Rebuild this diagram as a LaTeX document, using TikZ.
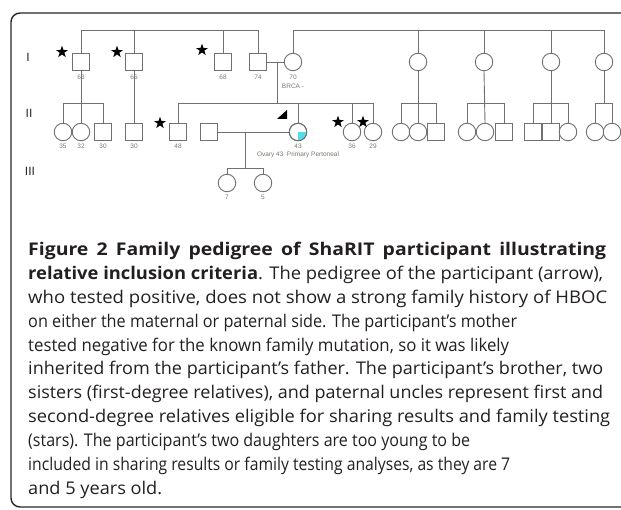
\documentclass[tikz,border=0pt]{standalone}
\usepackage{fontspec}
\usepackage{graphicx}
\setmainfont{Open Sans}
\newfontfamily\lblfont{Liberation Sans}
\usetikzlibrary{shapes.geometric}
\definecolor{lc}{RGB}{112,112,112}
\definecolor{agec}{RGB}{120,120,110}
\definecolor{cyanfill}{RGB}{80,222,235}
\definecolor{txt}{RGB}{35,31,32}
\newsavebox\capbox
\newlength\capinner
\newcommand\capline[4]{%
  \node[anchor=base west, inner sep=0, text=txt] (#1) at (28,#2) {%
    \sbox\capbox{\fontsize{17.5}{21}\selectfont #4}%
    \pgfmathsetmacro\capfac{#3/\wd\capbox}%
    \pgfmathsetmacro\gfac{min(\capfac,1.11)}%
    \pgfmathsetlength\capinner{#3/\gfac}%
    \scalebox{\gfac}[1]{\hbox to \capinner{\fontsize{17.5}{21}\selectfont #4}}};}
\tikzset{
  ln/.style={draw=lc, line width=0.9pt},
  male/.style={rectangle, draw=lc, fill=white, line width=0.9pt, minimum size=17pt, inner sep=0pt},
  female/.style={circle, draw=lc, fill=white, line width=0.9pt, minimum size=17.5pt, inner sep=0pt},
  age/.style={font=\lblfont\fontsize{6.5}{7}\selectfont, text=agec, inner sep=0pt},
  starmark/.style={star, star points=5, star point ratio=2.5, fill=black, draw=none, minimum size=12.5pt, inner sep=0pt},
  gen/.style={font=\lblfont\fontsize{12}{12}\selectfont, text=black!85, inner sep=0pt},
}
\begin{document}
\begin{tikzpicture}[x=1pt, y=-1pt]
\useasboundingbox (0,0) rectangle (621,510);
% frame
\begin{scope}
\clip (0,0) rectangle (621,510);
\draw[line width=1.4pt, black!85, rounded corners=9pt] (11,13) rectangle (660,507);
\end{scope}
% generation labels
\node[gen] (gI) at (28,57) {I};
\node[gen] (gII) at (29,113) {II};
\node[gen] (gIII) at (30,171) {III};
\coordinate (top) at (0,30);
\coordinate (sib) at (0,103);
% generation I
\node[male] (p63) at (81,62) {};
\node[male] (p66) at (134,62) {};
\node[male] (p68) at (223,62) {};
\node[male] (p74) at (258,62) {};
\node[female] (p70) at (293,62) {};
\node[female] (m1) at (418,62) {};
\node[female] (m2) at (484,62) {};
\node[female] (m3) at (551,62) {};
\node[female] (m4) at (604,62) {};
% top lines
\draw[ln] (p63.north) |- (p74.north |- top) -- (p74.north);
\draw[ln] (p66.north) -- (p66.north |- top);
\draw[ln] (p68.north) -- (p68.north |- top);
\draw[ln] (p70.north) |- (m4.north |- top) -- (m4.north);
\draw[ln] (m1.north) -- (m1.north |- top);
\draw[ln] (m2.north) -- (m2.north |- top);
\draw[ln] (m3.north) -- (m3.north |- top);
% marriage 74-70
\draw[ln] (p74.east) -- (p70.west);
\coordinate (mar1) at (277,62);
% generation II
\node[female] (c35) at (63,132) {};
\node[female] (c32) at (81,132) {};
\node[male] (c30a) at (103,132) {};
\node[male] (c30b) at (134,132) {};
\node[male] (b48) at (178,132) {};
\node[male] (hus) at (209,132) {};
\node[female] (part) at (298,132) {};
\node[female] (s36) at (352,132) {};
\node[female] (s29) at (373,132) {};
\node[female] (k1) at (401,132) {};
\node[female] (k2) at (418,132) {};
\node[male] (k3) at (436,132) {};
\node[female] (k4) at (467,132) {};
\node[female] (k5) at (485,132) {};
\node[male] (k6) at (504,132) {};
\node[male] (k7) at (533,132) {};
\node[male] (k8) at (551,132) {};
\node[female] (k9) at (568,132) {};
\node[female] (k10) at (595,132) {};
\node[female] (k11) at (612,132) {};
% participant affected quadrant
\begin{scope}
\clip (part.center) circle[radius=8.2pt];
\fill[cyanfill] (part.center) rectangle ++(9,9);
\end{scope}
\draw[ln] (part.center) circle[radius=8.75pt];
% sibships
\draw[ln] (p63.south) -- (c32.north);
\draw[ln] (c35.north) |- (c30a.north |- sib) -- (c30a.north);
\draw[ln] (p66.south) -- (c30b.north);
\draw[ln] (mar1) -- (mar1 |- sib);
\draw[ln] (b48.north) |- (s29.north |- sib) -- (s29.north);
\draw[ln] (part.north) -- (part.north |- sib);
\draw[ln] (s36.north) -- (s36.north |- sib);
\draw[ln] (m1.south) -- (k2.north);
\draw[ln] (k1.north) |- (k3.north |- sib) -- (k3.north);
\draw[ln] (m2.south) -- (k5.north);
\draw[ln] (k4.north) |- (k6.north |- sib) -- (k6.north);
\draw[ln] (m3.south) -- (k8.north);
\draw[ln] (k7.north) |- (k9.north |- sib) -- (k9.north);
\draw[ln] (m4.south) -- (m4.south |- sib);
\draw[ln] (k10.north) |- (k11.north |- sib) -- (k11.north);
% marriage participant
\draw[ln] (hus.east) -- (part.west);
\coordinate (mar2) at (245,132);
\coordinate (sib3) at (0,168);
% generation III
\node[female] (d7) at (227,183) {};
\node[female] (d5) at (263,183) {};
\draw[ln] (mar2) -- (mar2 |- sib3);
\draw[ln] (d7.north) |- (d5.north |- sib3) -- (d5.north);
% proband arrow
\fill[black] (277,119) -- (287,119) -- (287,110) -- cycle;
% stars
\node[starmark] (st63) at (62,52) {};
\node[starmark] (st66) at (117,52) {};
\node[starmark] (st68) at (202,50) {};
\node[starmark] (st48) at (160,123) {};
\node[starmark] (st36) at (338,122) {};
\node[starmark] (st29) at (363,122) {};
% ages
\node[age] (a63) at (81,77) {63};
\node[age] (a66) at (134,77) {66};
\node[age] (a68) at (223,77) {68};
\node[age] (a74) at (258,77) {74};
\node[age] (a70) at (293,77) {70};
\node[age] (brca) at (293,86) {BRCA -};
\node[age] (a35) at (63,146) {35};
\node[age] (a32) at (81,146) {32};
\node[age] (a30a) at (103,146) {30};
\node[age] (a30b) at (134,146) {30};
\node[age] (a48) at (178,146) {48};
\node[age] (a43) at (298,146) {43};
\node[age] (ovary) at (298,155) {Ovary 43\ \ Primary Pertoneal};
\node[age] (a36) at (352,146) {36};
\node[age] (a29) at (373,146) {29};
\node[age] (a7) at (227,197) {7};
\node[age] (a5) at (263,197) {5};
% caption
\capline{capA}{256}{578}{\textbf{Figure 2 Family pedigree of ShaRIT participant illustrating}}
\capline{capB}{279.8}{575}{\textbf{relative inclusion criteria}. The pedigree of the participant (arrow),}
\capline{capC}{303.6}{579}{who tested positive, does not show a strong family history of HBOC}
\capline{capD}{327.4}{489}{on either the maternal or paternal side. The participant’s mother}
\capline{capE}{351.2}{481}{tested negative for the known family mutation, so it was likely}
\capline{capF}{375}{575}{inherited from the participant’s father. The participant’s brother, two}
\capline{capG}{398.8}{575}{sisters (first-degree relatives), and paternal uncles represent first and}
\capline{capH}{422.6}{582}{second-degree relatives eligible for sharing results and family testing}
\capline{capI}{446.4}{442}{(stars). The participant’s two daughters are too young to be}
\capline{capJ}{470.2}{482}{included in sharing results or family testing analyses, as they are 7}
\capline{capK}{494}{134}{and 5 years old.}
\end{tikzpicture}
\end{document}
